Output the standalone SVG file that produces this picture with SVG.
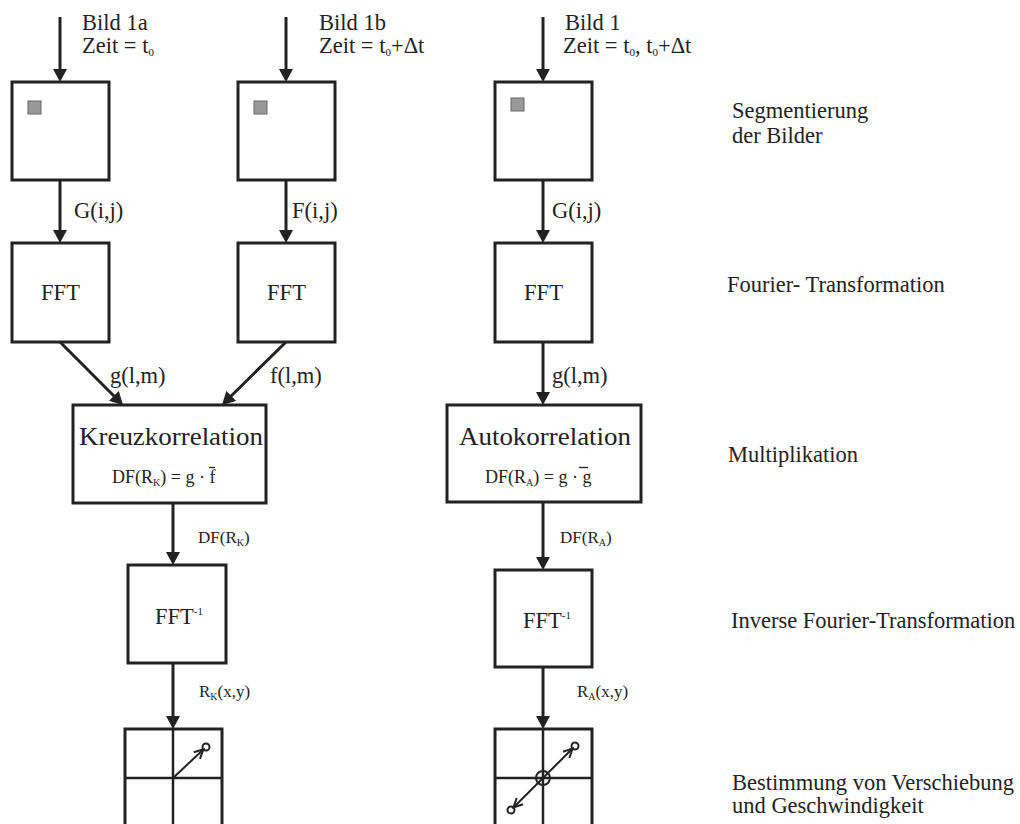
<svg xmlns="http://www.w3.org/2000/svg" width="1020" height="824" viewBox="0 0 1020 824">
<style>
.t{font-family:"Liberation Serif","Times New Roman",serif;fill:#222;font-size:22.5px}
.s{font-size:18px}
.sm{font-size:17px}
.big{font-size:25px}
.box{fill:#fff;stroke:#222;stroke-width:3}
.seg{fill:#999;stroke:#666;stroke-width:1}
.c{stroke:#222;stroke-width:3;fill:none}
.g{stroke:#222;stroke-width:2.5;fill:none}
.v{stroke:#222;stroke-width:2;fill:none}
</style>
<defs>
<marker id="ah" markerUnits="userSpaceOnUse" markerWidth="14" markerHeight="14" viewBox="0 0 14 14" refX="9" refY="7" orient="auto"><path d="M0,0 L13,7 L0,14 z" fill="#222"/></marker>
<marker id="oh" markerUnits="userSpaceOnUse" markerWidth="12" markerHeight="12" viewBox="0 0 12 12" refX="10" refY="6" orient="auto-start-reverse"><path d="M1,1.5 L10,6 L1,10.5" fill="none" stroke="#222" stroke-width="2"/></marker>
</defs>
<rect width="1020" height="824" fill="#fff"/>

<g id="connectors">
<line class="c" x1="60" y1="17" x2="60" y2="78" marker-end="url(#ah)"/>
<line class="c" x1="286" y1="17" x2="286" y2="78" marker-end="url(#ah)"/>
<line class="c" x1="543" y1="17" x2="543" y2="78" marker-end="url(#ah)"/>
<line class="c" x1="60" y1="180" x2="60" y2="239" marker-end="url(#ah)"/>
<line class="c" x1="286" y1="180" x2="286" y2="239" marker-end="url(#ah)"/>
<line class="c" x1="543" y1="180" x2="543" y2="239" marker-end="url(#ah)"/>
<line class="c" x1="60" y1="342" x2="120.2" y2="402.2" marker-end="url(#ah)"/>
<line class="c" x1="286" y1="342" x2="224.8" y2="402.2" marker-end="url(#ah)"/>
<line class="c" x1="543" y1="342" x2="543" y2="401" marker-end="url(#ah)"/>
<line class="c" x1="173" y1="503" x2="173" y2="561" marker-end="url(#ah)"/>
<line class="c" x1="543" y1="502" x2="543" y2="566" marker-end="url(#ah)"/>
<line class="c" x1="173" y1="663" x2="173" y2="725" marker-end="url(#ah)"/>
<line class="c" x1="543" y1="667" x2="543" y2="725" marker-end="url(#ah)"/>
<text class="t" x="74" y="218">G(i,j)</text>
<text class="t" x="292" y="218">F(i,j)</text>
<text class="t" x="552" y="218">G(i,j)</text>
<text class="t" x="110" y="383">g(l,m)</text>
<text class="t" x="270" y="383">f(l,m)</text>
<text class="t" x="552" y="383">g(l,m)</text>
<text class="t sm" x="198" y="543">DF(R<tspan font-size="10" dy="3">K</tspan><tspan dy="-3">)</tspan></text>
<text class="t sm" x="560" y="543">DF(R<tspan font-size="10" dy="3">A</tspan><tspan dy="-3">)</tspan></text>
<text class="t sm" x="199" y="697">R<tspan font-size="10" dy="3">K</tspan><tspan dy="-3">(x,y)</tspan></text>
<text class="t sm" x="577" y="697">R<tspan font-size="10" dy="3">A</tspan><tspan dy="-3">(x,y)</tspan></text>
</g>

<g id="inputs">
<text class="t" x="82" y="30">Bild 1a</text>
<text class="t" x="82" y="53">Zeit = t<tspan font-size="11" dy="3">0</tspan></text>
<text class="t" x="319" y="30">Bild 1b</text>
<text class="t" x="319" y="53">Zeit = t<tspan font-size="11" dy="3">0</tspan><tspan dy="-3">+Δt</tspan></text>
<text class="t" x="565" y="30">Bild 1</text>
<text class="t" x="563" y="53">Zeit = t<tspan font-size="11" dy="3">0</tspan><tspan dy="-3">, t</tspan><tspan font-size="11" dy="3">0</tspan><tspan dy="-3">+Δt</tspan></text>
</g>

<g id="seg1"><rect class="box" x="12" y="82" width="97" height="98"/><rect class="seg" x="28" y="101" width="13" height="13"/></g>
<g id="seg2"><rect class="box" x="238" y="82" width="97" height="98"/><rect class="seg" x="254" y="101" width="13" height="13"/></g>
<g id="seg3"><rect class="box" x="495" y="82" width="97" height="98"/><rect class="seg" x="511" y="98" width="13" height="13"/></g>

<g id="fft1"><rect class="box" x="12" y="243" width="97" height="99"/><text class="t" x="60.5" y="300" text-anchor="middle">FFT</text></g>
<g id="fft2"><rect class="box" x="238" y="243" width="97" height="99"/><text class="t" x="286.5" y="300" text-anchor="middle">FFT</text></g>
<g id="fft3"><rect class="box" x="495" y="243" width="97" height="99"/><text class="t" x="543.5" y="300" text-anchor="middle">FFT</text></g>

<g id="kreuz">
<rect class="box" x="73" y="405" width="193" height="98"/>
<text class="t big" x="79" y="445" textLength="184" lengthAdjust="spacingAndGlyphs">Kreuzkorrelation</text>
<text class="t s" x="112" y="483">DF(R<tspan font-size="10" dy="3">K</tspan><tspan dy="-3">) = g · f</tspan></text>
<line x1="209" y1="467.5" x2="215" y2="467.5" stroke="#222" stroke-width="1.3"/>
</g>
<g id="auto">
<rect class="box" x="447" y="405" width="194" height="97"/>
<text class="t big" x="459" y="445" textLength="172" lengthAdjust="spacingAndGlyphs">Autokorrelation</text>
<text class="t s" x="485" y="483">DF(R<tspan font-size="10" dy="3">A</tspan><tspan dy="-3">) = g · g</tspan></text>
<line x1="579" y1="467.5" x2="588" y2="467.5" stroke="#222" stroke-width="1.3"/>
</g>

<g id="ifft1"><rect class="box" x="128" y="565" width="98" height="98"/><text class="t" x="155" y="624">FFT<tspan font-size="11" dy="-9">-1</tspan></text></g>
<g id="ifft2"><rect class="box" x="495" y="570" width="97" height="97"/><text class="t" x="523" y="628">FFT<tspan font-size="11" dy="-9">-1</tspan></text></g>

<g id="grid1">
<rect class="c" x="125" y="729" width="97" height="110"/>
<line class="g" x1="173" y1="729" x2="173" y2="830"/>
<line class="g" x1="125" y1="778" x2="222" y2="778"/>
<line class="v" x1="173" y1="778" x2="203.4" y2="749.4" marker-end="url(#oh)"/>
<circle class="v" cx="206" cy="747" r="3.5"/>
</g>
<g id="grid2">
<rect class="c" x="495" y="729" width="97" height="110"/>
<line class="g" x1="543" y1="729" x2="543" y2="830"/>
<line class="g" x1="495" y1="778" x2="592" y2="778"/>
<circle class="v" cx="543" cy="778" r="7"/>
<line class="v" x1="513.5" y1="807.5" x2="572.5" y2="748.5" marker-start="url(#oh)" marker-end="url(#oh)"/>
<circle class="v" cx="575" cy="746" r="3.5"/>
<circle class="v" cx="511" cy="810" r="3.5"/>
</g>

<g id="stages">
<text class="t" x="732" y="118">Segmentierung</text>
<text class="t" x="732" y="143">der Bilder</text>
<text class="t" x="727" y="292">Fourier- Transformation</text>
<text class="t" x="728" y="462">Multiplikation</text>
<text class="t" x="731" y="628">Inverse Fourier-Transformation</text>
<text class="t" x="732" y="790">Bestimmung von Verschiebung</text>
<text class="t" x="732" y="813">und Geschwindigkeit</text>
</g>
</svg>
